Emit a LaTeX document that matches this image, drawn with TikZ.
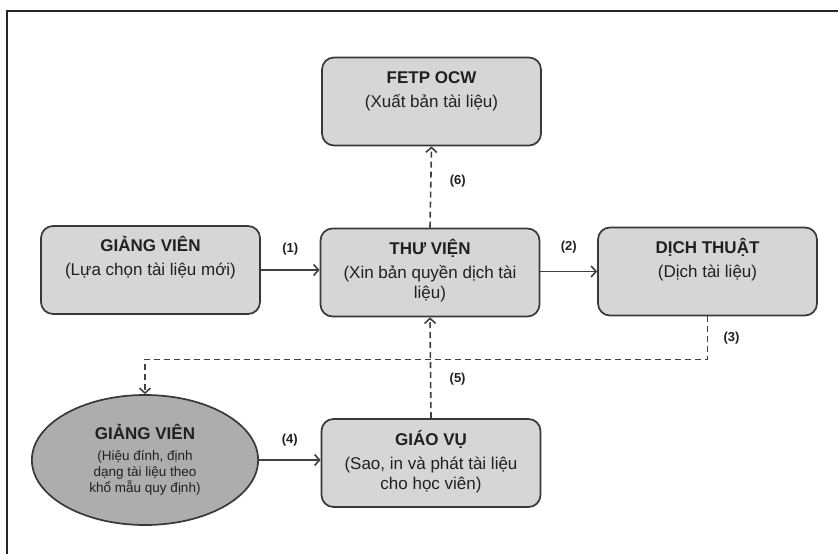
\documentclass[tikz,border=0pt]{standalone}
\usepackage{fontspec}
\setmainfont{Liberation Sans}
\usetikzlibrary{arrows.meta,shapes.geometric}
\definecolor{bordc}{HTML}{383838}
\definecolor{linec}{HTML}{404040}
\definecolor{boxc}{HTML}{D6D6D6}
\definecolor{ellc}{HTML}{ADADAD}
\definecolor{txtc}{HTML}{202020}
\newcommand\boxtxt[2]{\begin{minipage}[c][88bp][t]{210bp}\centering
\fontsize{17bp}{20bp}\selectfont
\rule{0pt}{26bp}\textbf{#1}\\[4bp]#2\par\end{minipage}}
\begin{document}
\begin{tikzpicture}[x=1bp,y=-1bp,
  stepbox/.style={draw=bordc, line width=1.7bp, fill=boxc, rounded corners=12bp,
    minimum width=219bp, minimum height=88bp, inner sep=0pt, text=txtc},
  ellbox/.style={ellipse, draw=bordc, line width=1.7bp, fill=ellc,
    minimum width=206bp, minimum height=130bp, inner sep=0pt, text=txtc},
  arr/.style={draw=linec, line width=1.6bp, -{Straight Barb[length=5bp,width=11bp,line width=1.6bp]}},
  dsh/.style={arr, dash pattern=on 6bp off 4bp},
  lab/.style={font=\bfseries\fontsize{13bp}{15bp}\selectfont, text=txtc, inner sep=0pt}]
\useasboundingbox (0,0) rectangle (838,554);
\fill[white] (0,0) rectangle (838,554);
\draw[line width=2.2bp, color=black!85] (7,556) -- (7,11) -- (840,11);

\node[stepbox] (fetp) at (431.5,101.5) {\boxtxt{FETP OCW}{(Xuất bản tài liệu)}};
\node[stepbox] (gv1) at (150.5,270) {\boxtxt{GIẢNG VIÊN}{(Lựa chọn tài liệu mới)}};
\node[stepbox] (thu) at (430,272.5) {\boxtxt{THƯ VIỆN}{(Xin bản quyền dịch tài\\ liệu)}};
\node[stepbox] (dich) at (707.5,271.5) {\boxtxt{DỊCH THUẬT}{(Dịch tài liệu)}};
\node[stepbox] (giao) at (431,463) {\boxtxt{GIÁO VỤ}{(Sao, in và phát tài liệu\\ cho học viên)}};
\node[ellbox] (gv2) at (145,460) {\begin{minipage}{160bp}\centering
  {\bfseries\fontsize{17bp}{20bp}\selectfont GIẢNG VIÊN\par}\vspace{5bp}
  \fontsize{13.5bp}{16bp}\selectfont (Hiệu đính, định\\ dạng tài liệu theo\\ khổ mẫu quy định)\par\end{minipage}};

\draw[arr] (gv1.east) -- node[lab, yshift=21bp]{(1)} (gv1.east -| thu.west);
\draw[arr] (thu.east |- dich.west) -- node[lab, yshift=24bp]{(2)} (dich.west);
\draw[dsh] (thu.north) -- node[lab, pos=0.57, xshift=27bp]{(6)} (fetp.south);
\draw[dsh] (dich.south) -- node[lab, xshift=24bp]{(3)} ([yshift=-43bp]dich.south) -| (gv2.north);
\draw[dsh] (giao.north) -- node[lab, pos=0.39, xshift=27bp]{(5)} (thu.south);
\draw[arr] (gv2.east) -- node[lab, yshift=20bp]{(4)} (gv2.east -| giao.west);
\end{tikzpicture}
\end{document}
